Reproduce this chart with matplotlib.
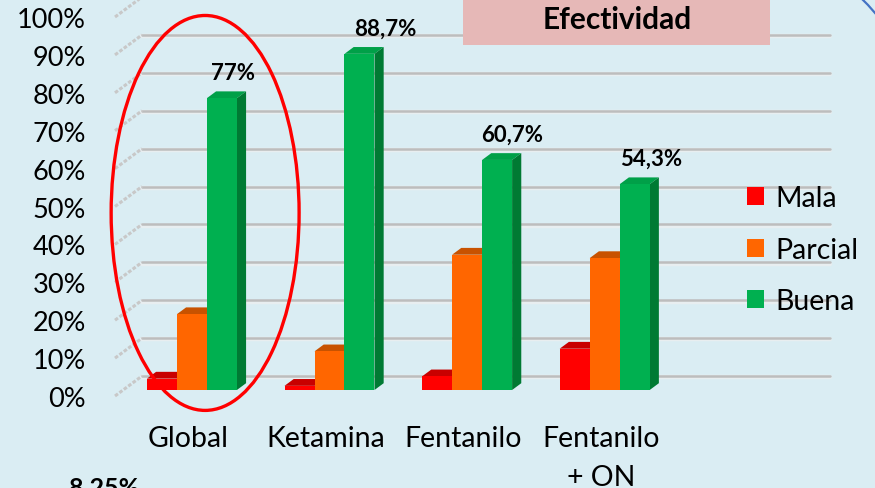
import matplotlib
matplotlib.use('Agg')
import matplotlib.pyplot as plt
from matplotlib.patches import Polygon, Ellipse, Rectangle, Patch
from matplotlib.lines import Line2D

# ---- data ----
categories = ['Global', 'Ketamina', 'Fentanilo', 'Fentanilo\n+ ON']
series = ['Mala', 'Parcial', 'Buena']
mala = [3.0, 1.1, 3.6, 10.9]
parcial = [20.0, 10.2, 35.7, 34.8]
buena = [77.0, 88.7, 60.7, 54.3]
buena_labels = ['77%', '88,7%', '60,7%', '54,3%']
yticks = [0, 10, 20, 30, 40, 50, 60, 70, 80, 90, 100]
ytick_labels = ['0%', '10%', '20%', '30%', '40%', '50%', '60%', '70%', '80%', '90%', '100%']
title_text = 'Efectividad'
note_text = '8,25%'

# ---- style ----
W, H = 875, 489
FONT = 'Lato'
bg = '#DAEDF3'
front_c = ['#FF0000', '#FF6600', '#00B050']
top_c = ['#C80000', '#C85200', '#00A048']
side_c = ['#B00000', '#B04800', '#007A33']
label_nudge_pt = [1.5, 12, 4, 5]   # horizontal nudge of data labels (points)

fig = plt.figure(figsize=(W / 100, H / 100), dpi=100)
fig.patch.set_facecolor(bg)
ax = fig.add_axes([115 / W, (H - 397) / H, 688 / W, 379 / H])
ax.set_facecolor('none')
ax.set_xlim(-0.5, 4.5)
ax.set_ylim(0, 100)
for s in ax.spines.values():
    s.set_visible(False)

DX = 27 / 137.6   # oblique depth (category units)
DY = 20 / 3.79    # oblique depth (percent units)
z_front, z_depth = 0.3, 0.34
w = 0.218

# gridlines on back wall + side wall
for t in yticks:
    ax.plot([-0.5 + DX, 4.5 + DX], [t + DY - 0.35, t + DY - 0.35], color='#E8EEF0',
            lw=3.2, solid_capstyle='round', clip_on=False, zorder=1)
    ax.plot([-0.5 + DX, 4.5 + DX], [t + DY, t + DY], color='#BDBDBD',
            lw=1.8, solid_capstyle='round', clip_on=False, zorder=1.1)
    ax.plot([-0.5, -0.5 + DX], [t, t + DY], color='#C8C8C8', lw=2.2,
            ls=(0, (1.2, 0.6)), clip_on=False, zorder=1.1)

# 3D-looking bars
data = [mala, parcial, buena]
b = z_front * DY
ddx, ddy = z_depth * DX, z_depth * DY
for i in range(len(categories)):
    for j, vals in enumerate(data):
        v = vals[i]
        x0 = i - 1.5 * w + j * w + z_front * DX
        top = Polygon([(x0, b + v), (x0 + w, b + v), (x0 + w + ddx, b + v + ddy),
                       (x0 + ddx, b + v + ddy)], closed=True, facecolor=top_c[j],
                      edgecolor='none', clip_on=False, zorder=3)
        side = Polygon([(x0 + w, b), (x0 + w + ddx, b + ddy), (x0 + w + ddx, b + v + ddy),
                        (x0 + w, b + v)], closed=True, facecolor=side_c[j],
                       edgecolor='none', clip_on=False, zorder=3)
        ax.add_patch(top)
        ax.add_patch(side)
        bars = ax.bar(x0, v, width=w, bottom=b, align='edge', color=front_c[j],
                      edgecolor='none', zorder=3)
        for p in bars:
            p.set_clip_on(False)
    # data label over green bar
    xg = i - 1.5 * w + 2 * w + z_front * DX + w / 2 + ddx
    ax.annotate(buena_labels[i], (xg, b + buena[i] + ddy), xytext=(label_nudge_pt[i], 6),
                textcoords='offset points', ha='center', va='bottom',
                fontsize=16, fontweight='bold', family=FONT, annotation_clip=False,
                zorder=5)

# axes ticks
ax.set_yticks(yticks, ytick_labels)
ax.set_xticks([i + 0.03 for i in range(len(categories))], categories)
ax.tick_params(axis='y', length=0, pad=21, labelsize=19.5)
ax.tick_params(axis='x', length=0, pad=21, labelsize=20.5)
for lab in ax.get_xticklabels() + ax.get_yticklabels():
    lab.set_family(FONT)
for lab in ax.get_xticklabels():
    lab.set_linespacing(1.6)

# legend
handles = [Patch(facecolor=c, edgecolor='none') for c in front_c]
leg = ax.legend(handles, series, loc='upper left', bbox_to_anchor=(733 / W, 1 - 172 / H),
                bbox_transform=fig.transFigure, frameon=False, borderpad=0,
                handlelength=0.6, handleheight=0.6, handletextpad=0.4,
                labelspacing=0.9, prop={'family': FONT, 'size': 20.5})

# red ellipse around "Global"
ell = Ellipse((0.155, 48.3), 1.366, 104.2, fill=False, edgecolor='#FF0000', lw=2.4,
              clip_on=False, zorder=6)
ax.add_patch(ell)

# title box
fig.patches.append(Rectangle((463 / W, 1 - 46 / H), 307 / W, 46 / H, transform=fig.transFigure,
                             facecolor='#E6B8B7', edgecolor='none', zorder=0.5))
fig.text(617 / W, 1 - 20 / H, title_text, ha='center', va='center', fontsize=21.5,
         fontweight='bold', family=FONT)

# bottom note (partially cut, as in the original)
fig.text(104 / W, 1 - 476 / H, note_text, ha='center', va='top', fontsize=18,
         fontweight='bold', family=FONT)

# blue border corner
fig.add_artist(Line2D([862 / W, 868 / W, 875 / W], [1.0, 1 - 6 / H, 1 - 14 / H],
                      transform=fig.transFigure, color='#4472C4', lw=1.6))

fig.savefig('out.png', dpi=100, facecolor=bg)
